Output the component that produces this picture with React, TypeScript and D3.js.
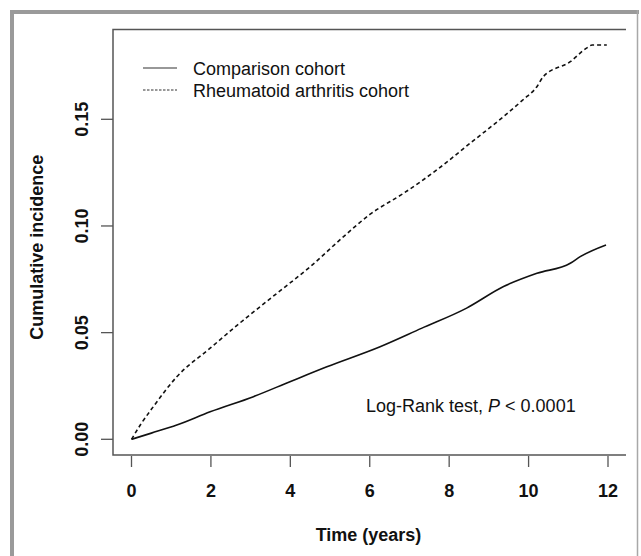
import React from "react";
import * as d3 from "d3";

const xTicks = [0, 2, 4, 6, 8, 10, 12];
const yTicks = [0.0, 0.05, 0.1, 0.15];

const comparisonT = [0, 0.5, 1.14, 1.98, 3.07, 3.99, 4.92, 6.26, 7.3, 8.44, 9.37, 10.21, 11.05, 11.3, 11.95];
const comparisonV = [0, 0.0029, 0.0067, 0.0129, 0.02, 0.027, 0.034, 0.0434, 0.052, 0.0615, 0.0716, 0.0778, 0.0825, 0.0856, 0.0911];

const raT = [0, 0.25, 0.55, 1.14, 1.98, 2.82, 3.66, 4.5, 5.34, 6.01, 6.85, 7.69, 8.53, 9.37, 9.85, 10.21, 10.37, 11.05, 11.47, 11.6, 11.97];
const raV = [0, 0.0075, 0.0153, 0.0293, 0.0427, 0.0559, 0.0684, 0.0809, 0.095, 0.1055, 0.1153, 0.1263, 0.1388, 0.1513, 0.159, 0.1653, 0.17, 0.177, 0.1835, 0.1848, 0.1848];

const legendLabels = ["Comparison cohort", "Rheumatoid arthritis cohort"];

const FONT = "'Liberation Sans', Arial, Helvetica, sans-serif";

export default function App() {
  const x = d3.scaleLinear().domain([0, 12]).range([131.5, 608]);
  const y = d3.scaleLinear().domain([0, 0.15]).range([439.3, 119.3]);
  const line = d3
    .line<[number, number]>()
    .x((d) => x(d[0]))
    .y((d) => y(d[1]))
    .curve(d3.curveMonotoneX);

  const comp = comparisonT.map((t, i) => [t, comparisonV[i]] as [number, number]);
  const ra = raT.map((t, i) => [t, raV[i]] as [number, number]);

  const left = 113;
  const right = 626;
  const top = 29.5;
  const bottom = 455;
  const axisColor = "#555";
  const textColor = "#111";

  return (
    <svg
      width={641}
      height={556}
      style={{ position: "fixed", left: 0, top: 0, background: "#fff" }}
      fontFamily={FONT}
    >
      {/* outer frame */}
      <rect x={0} y={0} width={641} height={556} fill="#fff" />
      <line x1={12} y1={10} x2={12} y2={556} stroke="#9a9a9a" strokeWidth={4} />
      <line x1={10} y1={12} x2={639} y2={12} stroke="#9a9a9a" strokeWidth={4} />
      <line x1={637.5} y1={10} x2={637.5} y2={556} stroke="#a8a8a8" strokeWidth={1.5} />

      {/* plot box (top, left, bottom) */}
      <path
        d={`M${right},${top} L${left},${top} L${left},${bottom} L${right},${bottom}`}
        fill="none"
        stroke={axisColor}
        strokeWidth={1.5}
      />

      {/* x ticks */}
      {xTicks.map((t) => (
        <g key={"xt" + t}>
          <line x1={x(t)} x2={x(t)} y1={bottom + 1} y2={bottom + 12} stroke={axisColor} strokeWidth={1.3} />
          <text
            x={x(t)}
            y={497}
            textAnchor="middle"
            fontSize={18}
            fontWeight="bold"
            fill={textColor}
          >
            {t}
          </text>
        </g>
      ))}

      {/* y ticks */}
      {yTicks.map((v) => (
        <g key={"yt" + v}>
          <line x1={left - 12} x2={left} y1={y(v)} y2={y(v)} stroke={axisColor} strokeWidth={1.3} />
          <text
            transform={`translate(88,${y(v)}) rotate(-90)`}
            textAnchor="middle"
            fontSize={18}
            fontWeight="bold"
            fill={textColor}
          >
            {v.toFixed(2)}
          </text>
        </g>
      ))}

      {/* axis titles */}
      <text x={(left + right) / 2 - 1} y={541} textAnchor="middle" fontSize={18} fontWeight="bold" fill={textColor}>
        Time (years)
      </text>
      <text
        transform={`translate(43,${(top + bottom) / 2 + 5}) rotate(-90)`}
        textAnchor="middle"
        fontSize={18}
        fontWeight="bold"
        fill={textColor}
      >
        Cumulative incidence
      </text>

      {/* curves */}
      <path d={line(comp) || ""} fill="none" stroke="#111" strokeWidth={1.6} />
      <path d={line(ra) || ""} fill="none" stroke="#111" strokeWidth={1.6} strokeDasharray="4,3" />

      {/* legend */}
      <line x1={143} x2={177} y1={68} y2={68} stroke="#333" strokeWidth={1.2} />
      <line x1={143} x2={177} y1={90} y2={90} stroke="#333" strokeWidth={1.2} strokeDasharray="2.5,1.5" />
      <text x={193} y={74.5} fontSize={18} fill={textColor}>
        {legendLabels[0]}
      </text>
      <text x={193} y={96.5} fontSize={18} fill={textColor}>
        {legendLabels[1]}
      </text>

      {/* annotation */}
      <text x={366} y={411.5} fontSize={18} fill={textColor}>
        Log-Rank test, <tspan fontStyle="italic">P</tspan> &lt; 0.0001
      </text>
    </svg>
  );
}
